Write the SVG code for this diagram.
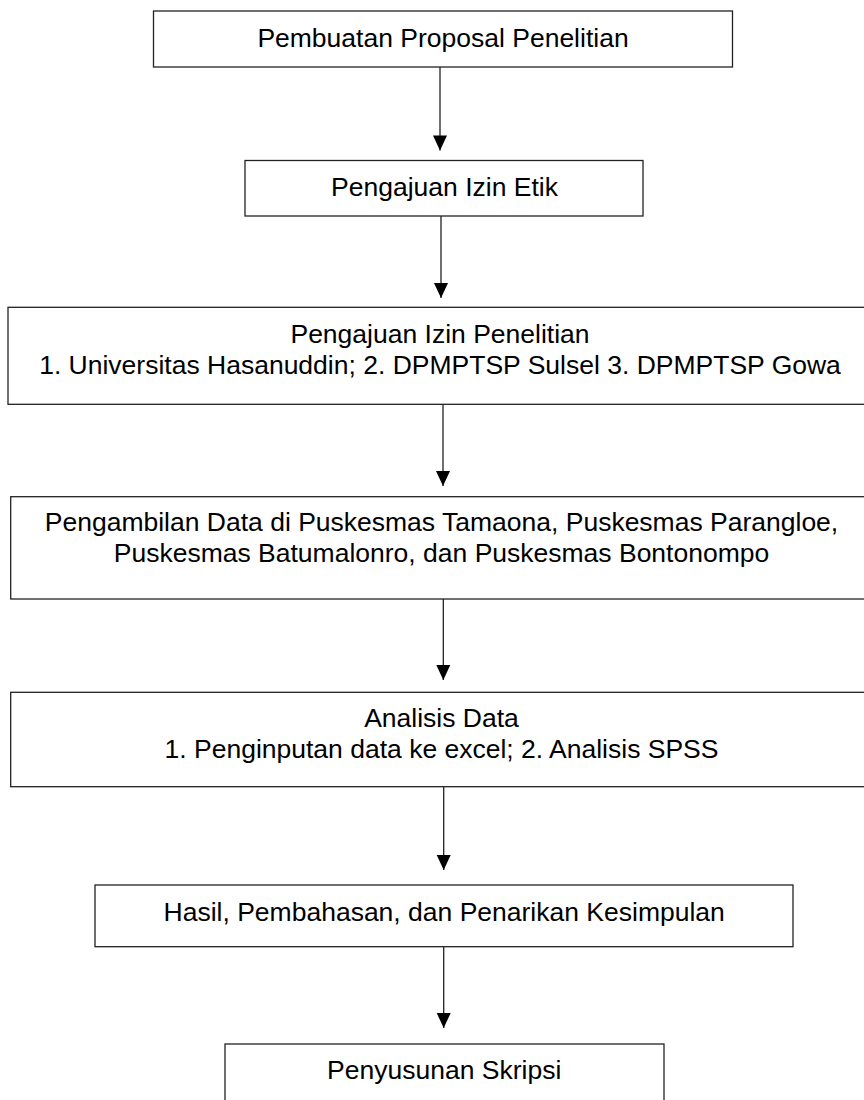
<svg xmlns="http://www.w3.org/2000/svg" width="864" height="1100" viewBox="0 0 864 1100">
<style>
  .box { fill: #ffffff; stroke: #222222; stroke-width: 1.3; }
  .lbl { font-family: "Liberation Sans", Arial, sans-serif; font-size: 26.5px; fill: #000000; text-anchor: middle; }
  .conn { stroke: #222222; stroke-width: 1.3; fill: none; marker-end: url(#arrow); }
</style>
<defs>
  <marker id="arrow" markerUnits="userSpaceOnUse" markerWidth="16" markerHeight="16" refX="15" refY="7" orient="auto" overflow="visible">
    <path d="M0,0 L15,7 L0,14 Z" fill="#000000"/>
  </marker>
</defs>
<rect x="0" y="0" width="864" height="1100" fill="#ffffff"/>
<g id="n1">
  <rect class="box" x="153.5" y="11" width="579" height="56"/>
  <text class="lbl" x="443" y="47">Pembuatan Proposal Penelitian</text>
</g>
<g id="n2">
  <rect class="box" x="245" y="160.5" width="398" height="55.5"/>
  <text class="lbl" x="444.5" y="196">Pengajuan Izin Etik</text>
</g>
<g id="n3">
  <rect class="box" x="8" y="307.3" width="872" height="97"/>
  <text class="lbl" x="440" y="343.3">Pengajuan Izin Penelitian</text>
  <text class="lbl" x="440" y="373.5">1. Universitas Hasanuddin; 2. DPMPTSP Sulsel 3. DPMPTSP Gowa</text>
</g>
<g id="n4">
  <rect class="box" x="10.7" y="496.7" width="870" height="102.3"/>
  <text class="lbl" x="441.5" y="531">Pengambilan Data di Puskesmas Tamaona, Puskesmas Parangloe,</text>
  <text class="lbl" x="441.5" y="561.5">Puskesmas Batumalonro, dan Puskesmas Bontonompo</text>
</g>
<g id="n5">
  <rect class="box" x="10.7" y="692.3" width="870" height="94.4"/>
  <text class="lbl" x="441.5" y="727.3">Analisis Data</text>
  <text class="lbl" x="441.5" y="758.3">1. Penginputan data ke excel; 2. Analisis SPSS</text>
</g>
<g id="n6">
  <rect class="box" x="95" y="885" width="698" height="61.7"/>
  <text class="lbl" x="444.2" y="920.5">Hasil, Pembahasan, dan Penarikan Kesimpulan</text>
</g>
<g id="n7">
  <rect class="box" x="225" y="1044" width="439" height="70"/>
  <text class="lbl" x="444.2" y="1079">Penyusunan Skripsi</text>
</g>
<g id="connectors">
  <line class="conn" x1="440" y1="67" x2="440" y2="150.5"/>
  <line class="conn" x1="441" y1="216" x2="441" y2="298"/>
  <line class="conn" x1="443" y1="404.3" x2="443" y2="486"/>
  <line class="conn" x1="443.3" y1="599" x2="443.3" y2="680"/>
  <line class="conn" x1="443.7" y1="786.7" x2="443.7" y2="870"/>
  <line class="conn" x1="443.7" y1="946.7" x2="443.7" y2="1028"/>
</g>
</svg>
